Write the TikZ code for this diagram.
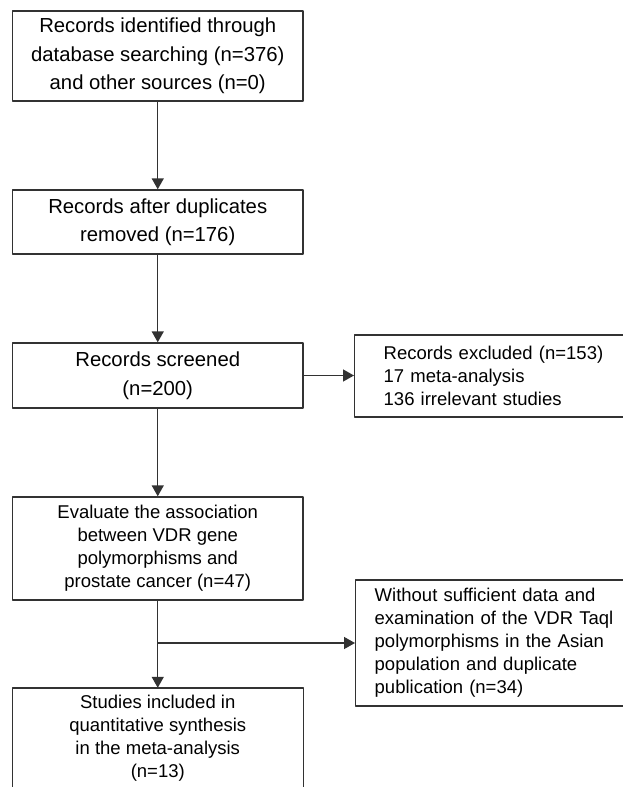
\documentclass[tikz,border=0pt]{standalone}
\usepackage{fontspec}
\setmainfont{Liberation Sans}
\usetikzlibrary{arrows.meta}
\definecolor{linec}{RGB}{50,50,50}
\begin{document}
\begin{tikzpicture}[x=1pt, y=-1pt, line join=round, >={Triangle[length=11pt,width=12pt]},
	box/.style={draw=linec, line width=1.4pt, align=center, inner sep=0pt, minimum width=290.5pt},
	sidebox/.style={draw=linec, line width=1.4pt, align=left, anchor=west, inner ysep=0pt},
	big/.style={font=\fontsize{20.3}{28.5}\selectfont},
	small/.style={font=\fontsize{18.5}{23}\selectfont},
	conn/.style={draw=linec, line width=1.4pt}]
	\useasboundingbox (0,0) rectangle (623,787);
	\def\xm{157.75} % giua cot trai
	\node[box, big, minimum height=90pt] (ident) at (\xm,56) {Records identified through\\database searching (n=376)\\and other sources (n=0)};
	\node[box, big, minimum height=64pt] (dup) at (\xm,222) {Records after duplicates\\removed (n=176)};
	\node[box, big, minimum height=65pt] (screen) at (\xm,375.5) {Records screened\\(n=200)};
	\node[box, small, minimum height=103pt] (eval) at (\xm,548.5) {Evaluate the association\\between VDR gene\\polymorphisms and\\prostate cancer (n=47)};
	\node[small, align=center, inner sep=0pt, minimum width=290.5pt, minimum height=100pt] (incl) at (\xm,738) {Studies included in\\quantitative synthesis\\in the meta-analysis\\(n=13)};
	\draw[conn] (incl.south west) -- (incl.north west) -- (incl.north east) -- (incl.south east);
	% hop ben phai
	\node[sidebox, small, inner xsep=29pt, text width=240pt, minimum height=82pt] (excl) at (354,376) {Records excluded (n=153)\\17 meta-analysis\\136 irrelevant studies};
	\node[sidebox, small, inner xsep=19pt, text width=260pt, minimum height=126pt] (without) at (355,643) {Without sufficient data and\\examination of the VDR Taql\\polymorphisms in the Asian\\population and duplicate\\publication (n=34)};
	\coordinate (br) at (eval.south |- without.west);
	\draw[conn, ->] (ident) -- (dup);
	\draw[conn, ->] (dup) -- (screen);
	\draw[conn, ->] (screen) -- (eval);
	\draw[conn, ->] (eval) -- (incl.north);
	\draw[conn, ->] (screen.east) -- (screen.east -| excl.west);
	\draw[conn, ->] (br) -- (without.west);
\end{tikzpicture}
\end{document}
